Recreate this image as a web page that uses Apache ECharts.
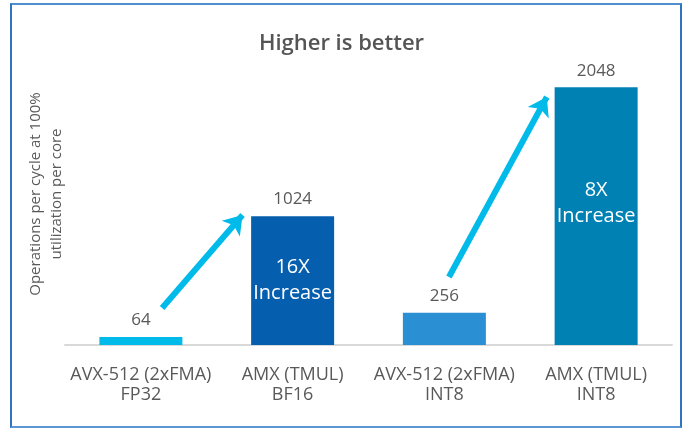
<!DOCTYPE html>
<html>
<head>
<meta charset="utf-8">
<script src="https://cdn.jsdelivr.net/npm/echarts@6/dist/echarts.min.js"></script>
<style>
html,body{margin:0;padding:0;background:#fff;}
#frame{position:absolute;left:10px;top:3px;width:668px;height:421px;border:2px solid #2f74bd;border-top-color:#4f8fcf;border-bottom-color:#5b97d2;}
#chart{position:absolute;left:0;top:0;width:683px;height:428px;}
</style>
</head>
<body>
<div id="frame"></div>
<div id="chart"></div>
<script>
const categories = ["AVX-512 (2xFMA)\nFP32", "AMX (TMUL)\nBF16", "AVX-512 (2xFMA)\nINT8", "AMX (TMUL)\nINT8"];
const values = [64, 1024, 256, 2048];
const barColors = ["#00bbea", "#055eae", "#2b8fd3", "#0081b4"];
const insideLabels = ["", "16X\nIncrease", "", "8X\nIncrease"];
// arrows: [x-position in category units, value] start -> end
const arrows = [
  [[0.14, 294], [0.67, 1033]],
  [[2.03, 540], [2.675, 1971]]
];
const FONT = "Open Sans";

const chart = echarts.init(document.getElementById('chart'));
chart.setOption({
  backgroundColor: 'transparent',
  animation: false,
  title: {
    text: 'Higher is better', left: 'center', top: 28,
    textStyle: {fontFamily: FONT, fontSize: 22, fontWeight: 600, color: '#555'}
  },
  grid: {left: 65, right: 11, top: 43, bottom: 83},
  xAxis: [{
    type: 'category', data: categories,
    axisTick: {show: false},
    axisLine: {lineStyle: {color: '#d9d9d9', width: 2}},
    axisLabel: {fontFamily: FONT, fontSize: 18, color: '#595959', lineHeight: 20, margin: 20, interval: 0}
  }, {
    type: 'value', min: -0.5, max: 3.5, show: false
  }],
  yAxis: {
    type: 'value', min: 0, max: 2400,
    axisLabel: {show: false}, splitLine: {show: false}, axisLine: {show: false}, axisTick: {show: false},
    name: 'Operations per cycle at 100%\nutilization per core',
    nameLocation: 'middle', nameGap: -2, nameRotate: 90,
    nameTextStyle: {fontFamily: FONT, fontSize: 15, color: '#595959', lineHeight: 21}
  },
  series: [{
    type: 'bar', barWidth: 83,
    data: values.map((v, i) => ({value: v, itemStyle: {color: barColors[i]}})),
    label: {show: true, position: 'top', distance: 8, fontFamily: FONT, fontSize: 17, color: '#595959'}
  }, {
    type: 'bar', barWidth: 83, barGap: '-100%',
    data: values.map((v, i) => ({
      value: v, itemStyle: {color: 'rgba(0,0,0,0)'},
      label: {show: insideLabels[i] !== '', formatter: insideLabels[i], offset: [0, i === 3 ? -13 : 0]}
    })),
    label: {position: 'inside', fontFamily: FONT, fontSize: 20, color: '#fff', lineHeight: 26},
    silent: true
  }, {
    type: 'lines', coordinateSystem: 'cartesian2d', xAxisIndex: 1, yAxisIndex: 0,
    symbol: ['none', 'arrow'], symbolSize: [16, 18],
    lineStyle: {color: '#00bbea', width: 6, opacity: 1},
    data: arrows.map(a => ({coords: a}))
  }]
});
</script>
</body>
</html>
